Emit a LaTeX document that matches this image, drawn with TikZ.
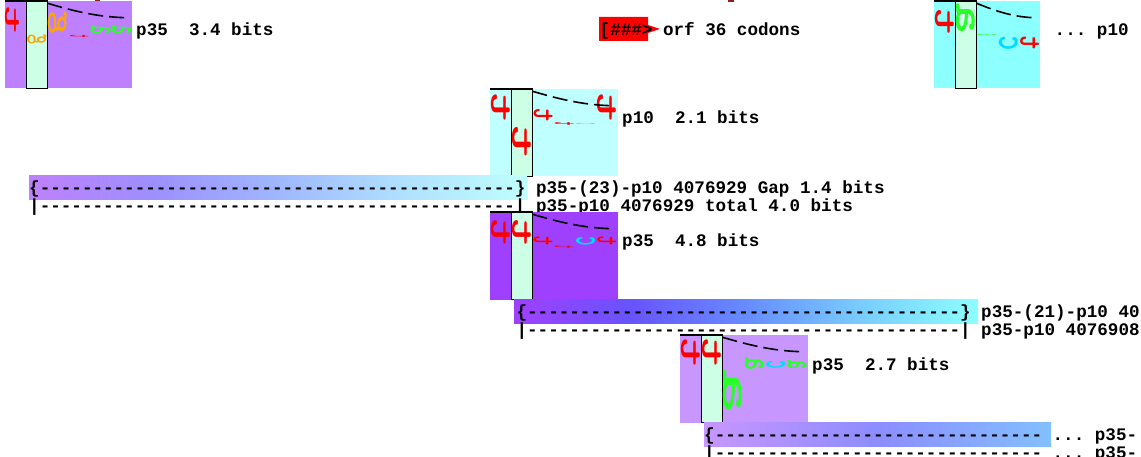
\documentclass[tikz,border=0pt]{standalone}
\usepackage{fontspec}
\setmonofont{Liberation Mono}
\newfontfamily\logofont{lmmonolt10-bold.otf}

% walker colours
\definecolor{wpurple}{RGB}{191,128,255}
\definecolor{wcyan}{RGB}{140,255,255}
\definecolor{wpale}{RGB}{192,255,255}
\definecolor{wdeep}{RGB}{160,64,255}
\definecolor{wlilac}{RGB}{200,150,255}
\definecolor{colgreen}{RGB}{204,255,230}
\definecolor{bt}{RGB}{255,0,0}
\definecolor{bg}{RGB}{255,165,0}
\definecolor{ba}{RGB}{40,255,40}
\definecolor{bc}{RGB}{0,220,255}
\definecolor{topmark}{RGB}{140,30,30}

% gap bar colours (hue runs purple -> blue -> cyan)
\definecolor{ga0}{RGB}{191,128,255}
\definecolor{ga1}{RGB}{157,143,255}
\definecolor{ga2}{RGB}{159,183,255}
\definecolor{ga3}{RGB}{175,225,255}
\definecolor{ga4}{RGB}{192,255,255}
\definecolor{gb0}{RGB}{160,64,255}
\definecolor{gb1}{RGB}{104,83,255}
\definecolor{gb2}{RGB}{102,140,255}
\definecolor{gb3}{RGB}{121,205,255}
\definecolor{gb4}{RGB}{140,255,255}
\definecolor{gc0}{RGB}{200,150,255}
\definecolor{gc1}{RGB}{171,145,255}
\definecolor{gc2}{RGB}{140,141,255}
\definecolor{gc3}{RGB}{135,166,255}
\definecolor{gc4}{RGB}{130,192,255}
\pgfdeclarehorizontalshading{gapa}{100bp}{color(0bp)=(ga0); color(25bp)=(ga0); color(37.5bp)=(ga1); color(50bp)=(ga2); color(62.5bp)=(ga3); color(75bp)=(ga4); color(100bp)=(ga4)}
\pgfdeclarehorizontalshading{gapb}{100bp}{color(0bp)=(gb0); color(25bp)=(gb0); color(37.5bp)=(gb1); color(50bp)=(gb2); color(62.5bp)=(gb3); color(75bp)=(gb4); color(100bp)=(gb4)}
\pgfdeclarehorizontalshading{gapc}{100bp}{color(0bp)=(gc0); color(25bp)=(gc0); color(37.5bp)=(gc1); color(50bp)=(gc2); color(62.5bp)=(gc3); color(75bp)=(gc4); color(100bp)=(gc4)}

% name, colour, base, x, y, width, height
\newcommand\seqletter[7]{\node[letter,text=#2] (#1) at (#4,#5) {\reflectbox{\rotatebox{90}{\resizebox*{#7pt}{#6pt}{\logofont #3}}}};}
% left, top, right, colour
\newcommand\walkerbox[4]{%
  \fill[#4] (#1,#2) rectangle (#3,#2+87.5);
  \draw[line width=1.2pt,fill=colgreen] (#1+21.3,#2) rectangle (#1+42.6,#2+87.5);}
% left, top, right
\newcommand\walkercurve[3]{%
  \draw[line width=1.5pt] (#1,#2) -- (#1+21.3,#2);
  \draw[wcurve] ({#1+42.6},{#2+2.3}) .. controls ({#1+42.6+0.29*(#3-#1-48.6)},{#2+9}) and ({#1+42.6+0.61*(#3-#1-48.6)},{#2+16}) .. ({#3-6},{#2+16.7});}
\newcommand\dashrun[1]{\foreach \n in {1,...,#1}{-}}

\begin{document}
\begin{tikzpicture}[x=1pt,y=-1pt,
  letter/.style={inner sep=0pt,outer sep=0pt,anchor=north west},
  lab/.style={inner sep=0pt,anchor=base west,font=\ttfamily\bfseries\fontsize{17.6pt}{18pt}\selectfont},
  wcurve/.style={line width=1.6pt,dash pattern=on 15pt off 6pt}]
\useasboundingbox (0,0) rectangle (1141,457);
\fill[white] (0,0) rectangle (1141,457);
\fill[topmark] (95,0) rectangle (100,2);
\fill[topmark] (728,0) rectangle (734,2.5);

% p35 walker, top left
\walkerbox{5}{1}{132}{wpurple}
\seqletter{w1t0}{bt}{t}{5.5}{4}{14}{30}
\seqletter{w1g1}{bg}{g}{27.3}{34.5}{19}{10}
\seqletter{w1g2}{bg}{g}{48.6}{12}{19}{23}
\seqletter{w1t3}{bt}{t}{69.9}{35}{19}{2.5}
\seqletter{w1a4}{ba}{a}{90.7}{26}{20}{9}
\seqletter{w1a5}{ba}{a}{111.5}{26}{20}{9}
\walkercurve{5}{1}{132}
\node[lab] (lw1) at (136,36) {p35\ \ 3.4 bits};

% orf marker
\fill[red] (599,17) -- (648,17) -- (648,25) -- (660,29) -- (648,33) -- (648,41) -- (599,41) -- cycle;
\node[lab] (orf) at (599.5,36) {[\#\#\#> orf 36 codons};

% p10 walker, top right
\walkerbox{934}{1}{1040}{wcyan}
\seqletter{w2t0}{bt}{t}{935}{7}{19}{28}
\seqletter{w2a1}{ba}{a}{956.3}{4}{19}{31}
\seqletter{w2a2}{ba}{a}{977.6}{34}{19}{1.2}
\seqletter{w2c3}{bc}{c}{998.9}{35.5}{19}{16}
\seqletter{w2t4}{bt}{t}{1020.2}{35.5}{19}{14.5}
\walkercurve{934}{1}{1040}
\node[lab] (lw2) at (1054.5,36) {... p10};

% p10 walker
\walkerbox{490}{89}{618}{wpale}
\seqletter{w3t0}{bt}{t}{491}{91}{19}{31}
\seqletter{w3t1}{bt}{t}{512.3}{122.5}{19}{35}
\seqletter{w3t2}{bt}{t}{533.6}{108}{19}{14}
\seqletter{w3t3}{bt}{t}{554.9}{122.5}{19}{3.5}
\seqletter{w3c4}{bc}{c}{576.2}{123}{19}{1.2}
\seqletter{w3t5}{bt}{t}{597.5}{91}{19}{31}
\walkercurve{490}{89}{618}
\node[lab] (lw3) at (622,124) {p10\ \ 2.1 bits};

% first gap
\shade[shading=gapa] (29,176) rectangle (527,200);
\node[lab] (gap1) at (29,194) {\{\dashrun{45}\} p35-(23)-p10 4076929 Gap 1.4 bits};
\node[lab] (tot1) at (29,212) {|\dashrun{45}| p35-p10 4076929 total 4.0 bits};

% p35 walker
\walkerbox{490}{212}{618}{wdeep}
\seqletter{w4t0}{bt}{t}{491}{217}{19}{29}
\seqletter{w4t1}{bt}{t}{512.3}{217}{19}{29}
\seqletter{w4t2}{bt}{t}{533.6}{236}{19}{10}
\seqletter{w4t3}{bt}{t}{554.9}{245.5}{19}{3}
\seqletter{w4c4}{bc}{c}{576.2}{236.5}{19}{10}
\seqletter{w4t5}{bt}{t}{597.5}{236}{19}{10}
\walkercurve{490}{212}{618}
\node[lab] (lw4) at (622,247) {p35\ \ 4.8 bits};

% second gap
\shade[shading=gapb] (514,299) rectangle (978,323);
\node[lab] (gap2) at (516.4,317) {\{\dashrun{41}\} p35-(21)-p10 40};
\node[lab] (tot2) at (516.4,335) {|\dashrun{41}| p35-p10 4076908};

% p35 walker
\walkerbox{680}{335}{808}{wlilac}
\seqletter{w5t0}{bt}{t}{681}{336}{19}{31}
\seqletter{w5t1}{bt}{t}{702.3}{336}{19}{31}
\seqletter{w5a2}{ba}{a}{723.6}{369.5}{19}{45}
\seqletter{w5a3}{ba}{a}{744.9}{357}{19}{13}
\seqletter{w5c4}{bc}{c}{766.2}{361}{19}{9}
\seqletter{w5a5}{ba}{a}{787.5}{361}{19}{9}
\walkercurve{680}{335}{808}
\node[lab] (lw5) at (812,370) {p35\ \ 2.7 bits};

% third gap
\shade[shading=gapc] (704,422) rectangle (1051,446);
\node[lab] (gap3) at (704,440) {\{\dashrun{31} ... p35-};
\node[lab] (tot3) at (704,458) {|\dashrun{31} ... p35-};
\end{tikzpicture}
\end{document}
